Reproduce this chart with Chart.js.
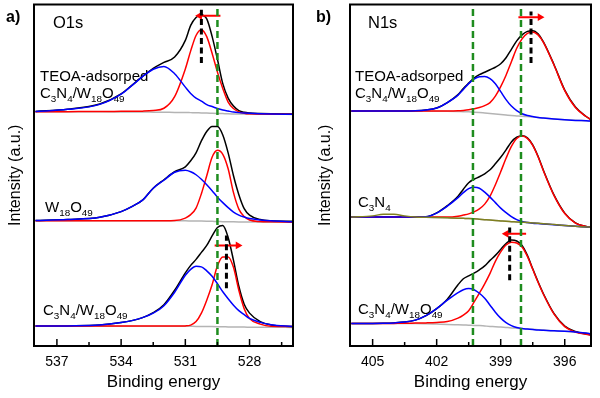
<!DOCTYPE html>
<html><head><meta charset="utf-8">
<script src="https://cdn.jsdelivr.net/npm/chart.js@4.4.1/dist/chart.umd.min.js"></script>
<style>
html,body{margin:0;padding:0;background:#fff;}
#wrap{position:relative;width:600px;height:398px;overflow:hidden;background:#fff;}
canvas{position:absolute;top:0;}
</style></head><body>
<div id="wrap"><canvas id="ca" width="300" height="398" style="left:0"></canvas><canvas id="cb" width="300" height="398" style="left:300px"></canvas></div>
<script>
// ---------- Panel a: O1s ----------
const aEnergy = [538, 536.5, 535, 534, 533.5, 533, 532.5, 532, 531.5, 531, 530.75, 530.5, 530.25, 530, 529.75, 529.5, 529.25, 529, 528.75, 528.5, 528.25, 528, 527.5, 527, 526];
// TEOA-adsorped C3N4/W18O49
const aTopBlack = [0.3, 2.5, 7.7, 18, 26.5, 35.5, 43.5, 49.5, 55, 71.7, 86.7, 94.7, 97.2, 93.2, 75.7, 52.7, 28.2, 13.7, 5.7, 1.2, -0.6, -1.3, -1.8, -2.1, -2.3];
const aTopRed   = [0, 0.1, 0.2, 0.4, 0.5, 0.6, 1.2, 3.5, 15.2, 43, 61.1, 76.6, 82.4, 75.4, 58.7, 39.8, 23.3, 9.7, 3.2, -0.1, -1.5, -2.1, -2.3, -2.5, -2.6];
const aTopBlue  = [0.2, 2.4, 7.4, 17.7, 26.2, 35.2, 42.7, 45.5, 38.2, 24.7, 18.4, 13.7, 10.7, 7.2, 5.2, 3.2, 1.7, 0.7, -0.3, -0.9, -1.3, -1.6, -2, -2.3, -2.6];
const aTopBase  = [-0.1, -0.1, -0.1, -0.2, -0.3, -0.3, -0.4, -0.5, -0.7, -0.8, -0.9, -1, -1.2, -1.3, -1.5, -1.7, -1.9, -2.1, -2.2, -2.3, -2.4, -2.5, -2.6, -2.6, -2.7];
// W18O49
const aMidBlack = [0.3, 1.3, 3.6, 9.3, 14.3, 20.8, 32.8, 41.3, 49.3, 54.3, 60.3, 68.3, 80.3, 89.8, 94.8, 94.8, 86.3, 68.3, 45.3, 26.3, 12.3, 5.8, 1.3, 0, -0.5];
const aMidRed   = [0, 0, 0, 0, 0, 0, 0, 0.1, 0.3, 2.8, 6.3, 12.8, 27.3, 45.3, 63.8, 70.8, 66.8, 52.3, 28.3, 11.8, 4.3, 0.8, -0.7, -1, -1.4];
const aMidBlue  = [0.3, 1.3, 3.6, 9.3, 14.3, 20.8, 32.8, 40.8, 48.8, 50.8, 49.3, 46.3, 41.8, 36.3, 30.3, 23.8, 18.3, 13.3, 8.8, 5.8, 3.8, 2.3, 0.9, 0, -0.8];
const aMidBase  = [0, 0, 0, 0, 0, 0, 0, 0, 0, 0, -0.1, -0.2, -0.2, -0.3, -0.5, -0.6, -0.8, -0.9, -1, -1.1, -1.2, -1.2, -1.3, -1.4, -1.4];
// C3N4/W18O49
const aBotBlack = [0, 0.2, 1, 3.5, 5.5, 8.5, 13.5, 21.5, 36, 53.5, 61, 67, 74, 81, 90.5, 99, 101, 89, 66, 40, 22, 13, 4.5, 1.2, -0.5];
const aBotRed   = [0, 0, 0, 0, 0, 0, 0, 0, 0, 0.2, 1, 4.5, 13, 26, 41.5, 60.5, 69.5, 69.5, 59, 36, 17.5, 7.5, 2, -0.2, -0.5];
const aBotBlue  = [0, 0.2, 1, 3.5, 5.5, 8.5, 13, 20.5, 34, 51, 57, 60, 59.5, 55.5, 50, 42.5, 34.5, 27.5, 21, 15.5, 11.5, 7.7, 3.7, 1.4, -0.3];
const aBotBase  = [-0.1, -0.1, -0.1, -0.1, -0.1, -0.1, -0.1, -0.1, -0.1, -0.1, -0.2, -0.3, -0.35, -0.4, -0.5, -0.6, -0.7, -0.8, -0.9, -1, -1, -1.1, -1.2, -1.2, -1.3];
const aStackOffsets = [235.3, 125.7, 20];          // top, middle, bottom spectrum
const aTickLabels = [537, 534, 531, 528];
const aMinorTicks = [535.5, 532.5, 529.5, 526.5];
const aRefLines = [529.5];
const aShiftMarks = [[530.25, 284.3, 337.7], [529.08, 58, 111]];   // energy, from, to
const aArrows = [[529.36, 530.33, 331.7], [529.63, 528.54, 101]];   // from, to, level

// ---------- Panel b: N1s ----------
const bEnergy = [406, 405, 404.5, 404, 403.5, 403, 402.5, 402, 401.5, 401, 400.75, 400.5, 400.25, 400, 399.75, 399.5, 399.25, 399, 398.75, 398.5, 398.25, 398, 397.75, 397.5, 397.25, 397, 396.5, 396, 395.5, 395, 394.8];
const bTopBlack = [0, 0, 0, 0, 0, 0.2, 1, 3, 8.5, 16.5, 22.7, 28, 33, 36.5, 39, 41.5, 44, 47.5, 53.5, 62, 70.5, 76.5, 80, 80.7, 77.5, 69.5, 46.5, 21, 4, -5.5, -8.3];
const bTopRed   = [0, 0, 0, 0, 0, 0, 0, 0, 0, 0.2, 0.6, 1.2, 2.2, 3.5, 5.5, 8.5, 15, 24.5, 36, 49.5, 63, 72.5, 78, 79.5, 76.5, 69, 46, 20.5, 3.5, -5.5, -8.3];
const bTopBlue  = [0, 0, 0, 0, 0, 0.2, 1, 3, 8.5, 16, 21.7, 27.5, 32, 34.5, 34.8, 32.5, 27.5, 19.5, 11.5, 5, 0.5, -2.7, -4.5, -5.5, -6.4, -7, -8, -8.8, -9.4, -9.8, -10];
const bTopBase  = [0, 0, 0, 0, 0, 0, 0, -0.1, -0.3, -0.5, -0.6, -0.8, -1.1, -1.5, -2, -2.5, -3, -3.5, -4, -4.5, -4.9, -5.3, -5.6, -6, -6.5, -7, -7.9, -8.7, -9.3, -9.7, -10];
const bMidBlack = [0, 0, 0, 0, 0, 0, 0.3, 4.2, 11.5, 21, 28, 34.5, 38, 40.5, 43.5, 47.5, 53.5, 60, 67.5, 75.5, 80.2, 81.7, 79.5, 72.5, 61, 47, 22, 4, -5.8, -9.5, -10.2];
const bMidRed   = [0, 0, 0, 0, 0, 0, 0, 0, 0, 0.9, 2, 3.2, 5.2, 8.2, 13, 21, 32.5, 45.5, 59, 71, 79, 81.5, 79, 72, 60.5, 46.5, 21.5, 3.5, -6, -9.5, -10.2];
const bMidBlue  = [0, 0, 0, 0, 0, 0, 0.3, 4, 11, 19.5, 24.5, 28.5, 29.9, 29, 25, 20, 14.5, 9, 4.5, 0.5, -2.5, -4.5, -5.5, -6.1, -6.5, -6.9, -7.7, -8.5, -9.3, -10, -10.2];
const bMidC3N4  = [0, 1.2, 2.8, 2.8, 1.2, 0.1, -0.2, -0.5, -0.8, -1.1, -1.3, -1.5, -1.8, -2.2, -2.6, -3, -3.5, -3.9, -4.3, -4.6, -4.9, -5.2, -5.5, -5.9, -6.3, -6.6, -7.5, -8.5, -9.3, -9.9, -10.2];
const bMidBase  = [0, 0, 0, 0, 0, 0, -0.2, -0.5, -0.8, -1.1, -1.3, -1.5, -1.8, -2.2, -2.6, -3, -3.5, -3.9, -4.3, -4.6, -4.9, -5.2, -5.5, -5.9, -6.3, -6.6, -7.5, -8.5, -9.3, -9.9, -10.2];
const bBotBlack = [0, 0.1, 0.3, 0.7, 1.5, 3.5, 8, 15, 24.5, 39, 45, 48, 50.7, 54, 58, 63.5, 68.5, 74.5, 80.5, 84, 83, 78.5, 68.5, 55, 42, 30, 10, -2.5, -8, -10.5, -11.3];
const bBotRed   = [0, 0, 0.1, 0.2, 0.3, 0.5, 0.7, 1.1, 2, 5.5, 8.5, 13, 21.5, 30.5, 40, 50.5, 62.5, 72, 79, 81.8, 81, 77, 67.5, 54.5, 41.5, 29.5, 9.5, -3, -8.5, -10.8, -11.5];
const bBotBlue  = [0, 0.1, 0.3, 0.7, 1.5, 3.5, 8, 15, 23.5, 31, 34, 35.2, 34, 30.5, 25.5, 18.5, 11.5, 5.5, 1, -2, -4, -5, -5.5, -6, -6.5, -6.8, -7.3, -7.8, -8.5, -9.5, -10.3];
const bBotBase  = [0, 0, 0, 0, 0, 0, -0.2, -0.5, -0.8, -1.2, -1.4, -1.6, -1.8, -2, -2.4, -2.8, -3.1, -3.5, -3.9, -4.3, -4.6, -5, -5.4, -5.7, -6.1, -6.5, -7.1, -7.8, -8.6, -9.5, -10.3];
const bStackOffsets = [236, 129.5, 22.5];
const bTickLabels = [405, 402, 399, 396];
const bMinorTicks = [403.5, 400.5, 397.5];
const bRefLines = [400.3, 398.05];
const bShiftMarks = [[397.58, 284.3, 336], [398.58, 66, 119]];
const bArrows = [[398.17, 397.16, 330.3], [397.81, 398.74, 112.7]];

// ---------- helpers ----------
const FONT = '"Liberation Sans", Arial, Helvetica, sans-serif';
Chart.defaults.font.family = FONT;
Chart.defaults.color = '#000';
const YMAX = 343;

function series(energy, vals, off) { return energy.map((e, i) => ({x: e, y: off + vals[i]})); }
function curve(energy, vals, off, color, order) {
  return {data: series(energy, vals, off), borderColor: color, borderWidth: 1.5, pointRadius: 0,
          cubicInterpolationMode: 'monotone', fill: false, order};
}
function vline(e, y0, y1, color, width, dash) {
  return {data: [{x: e, y: y0}, {x: e, y: y1}], borderColor: color, borderWidth: width, borderDash: dash,
          pointRadius: 0, order: 0, borderCapStyle: 'butt'};
}
function arrow(a) {
  const [from, to, lvl] = a;
  return {data: [{x: from, y: lvl}, {x: to, y: lvl}], borderColor: '#ff0000', borderWidth: 2,
          pointRadius: [0, 4.5], pointStyle: 'triangle', rotation: to > from ? -90 : 90,
          pointBackgroundColor: '#ff0000', pointBorderColor: '#ff0000', pointBorderWidth: 0, order: 0};
}
function spectrum(energy, black, red, blue, base, off) {
  return [curve(energy, base, off, '#b4b4b4', 5), curve(energy, black, off, '#000000', 4),
          curve(energy, red, off, '#ff0000', 3), curve(energy, blue, off, '#0000ff', 2)];
}

function drawRich(ctx, x, y, parts, size) {
  let cx = x;
  parts.forEach(p => {
    const sub = p[1];
    ctx.font = (sub ? (size * 0.66) : size) + 'px ' + FONT;
    ctx.fillText(p[0], cx, sub ? y + size * 0.28 : y);
    cx += ctx.measureText(p[0]).width;
  });
}
const CNW = [['C', 0], ['3', 1], ['N', 0], ['4', 1], ['/W', 0], ['18', 1], ['O', 0], ['49', 1]];

const decorPlugin = {
  id: 'decor',
  beforeDatasetsDraw(chart, args, o) {
    const ctx = chart.ctx;
    ctx.save();
    ctx.fillStyle = '#000';
    ctx.textBaseline = 'alphabetic';
    o.labels.forEach(l => drawRich(ctx, l.x, l.y, l.parts, l.size));
    ctx.restore();
  },
  afterDraw(chart, args, o) {
    const {ctx, chartArea: {left, top, right, bottom}} = chart;
    const xs = chart.scales.x;
    ctx.save();
    ctx.strokeStyle = '#000';
    ctx.lineWidth = 1.5;
    const tick = (v, len) => { const p = xs.getPixelForValue(v); ctx.beginPath(); ctx.moveTo(p, bottom); ctx.lineTo(p, bottom - len); ctx.stroke(); };
    o.major.forEach(v => tick(v, 7));
    o.minor.forEach(v => tick(v, 4));
    ctx.lineWidth = 2;
    ctx.strokeRect(left, top, right - left, bottom - top);
    ctx.font = 'bold 16px ' + FONT;
    ctx.fillStyle = '#000';
    ctx.fillText(o.letter[0], o.letter[1], o.letter[2]);
    ctx.font = '16.5px ' + FONT;
    ctx.fillText(o.core[0], o.core[1], o.core[2]);
    ctx.restore();
  }
};

function makeChart(id, cfg) {
  const datasets = [];
  cfg.spectra.forEach(s => datasets.push(...spectrum(cfg.energy, s[0], s[1], s[2], s[3], s[4])));
  if (cfg.extra) datasets.push(cfg.extra);
  cfg.refs.forEach(e => datasets.push(vline(e, 0, YMAX, '#1e8c1e', 2.5, [7, 4])));
  cfg.marks.forEach(m => datasets.push(vline(m[0], m[1], m[2], '#000000', 3, [6, 3.5])));
  cfg.arrows.forEach(a => datasets.push(arrow(a)));
  return new Chart(document.getElementById(id), {
    type: 'line',
    data: {datasets},
    options: {
      responsive: false, animation: false, devicePixelRatio: 1, events: [],
      layout: {padding: {top: 3, right: cfg.padRight, left: 0, bottom: 0}},
      plugins: {legend: {display: false}, tooltip: {enabled: false},
        decor: {labels: cfg.labels, major: cfg.ticks, minor: cfg.minor, letter: cfg.letter, core: cfg.core}},
      scales: {
        x: {type: 'linear', reverse: true, min: cfg.min, max: cfg.max,
            afterBuildTicks(s) { s.ticks = cfg.ticks.map(v => ({value: v})); },
            ticks: {font: {size: 14}, padding: 0, color: '#000', maxRotation: 0, autoSkip: false},
            grid: {display: false}, border: {display: false},
            title: {display: true, text: 'Binding energy', font: {size: 17}, padding: {top: 0, bottom: 5}, color: '#000'},
            afterFit(s) { s.height = 52; }},
        y: {type: 'linear', min: 0, max: YMAX, ticks: {display: false}, grid: {display: false}, border: {display: false},
            title: {display: true, text: 'Intensity (a.u.)', font: {size: 16}, padding: {top: cfg.yTitlePad, bottom: 0}, color: '#000'},
            afterFit(s) { s.width = cfg.yWidth; }}
      }
    },
    plugins: [decorPlugin]
  });
}

makeChart('ca', {
  energy: aEnergy, min: 525.97, max: 538.07, padRight: 7, yWidth: 34, yTitlePad: 6,
  spectra: [[aTopBlack, aTopRed, aTopBlue, aTopBase, aStackOffsets[0]],
            [aMidBlack, aMidRed, aMidBlue, aMidBase, aStackOffsets[1]],
            [aBotBlack, aBotRed, aBotBlue, aBotBase, aStackOffsets[2]]],
  refs: aRefLines, marks: aShiftMarks, arrows: aArrows,
  ticks: aTickLabels, minor: aMinorTicks,
  letter: ['a)', 6, 22], core: ['O1s', 53, 28],
  labels: [
    {x: 40, y: 81, size: 15, parts: [['TEOA-adsorped', 0]]},
    {x: 40, y: 98, size: 15, parts: CNW},
    {x: 45, y: 212, size: 15, parts: [['W', 0], ['18', 1], ['O', 0], ['49', 1]]},
    {x: 43, y: 315, size: 15, parts: CNW}
  ]
});

makeChart('cb', {
  energy: bEnergy, min: 394.77, max: 406.06, padRight: 9, yWidth: 50, yTitlePad: 16,
  spectra: [[bTopBlack, bTopRed, bTopBlue, bTopBase, bStackOffsets[0]],
            [bMidBlack, bMidRed, bMidBlue, bMidBase, bStackOffsets[1]],
            [bBotBlack, bBotRed, bBotBlue, bBotBase, bStackOffsets[2]]],
  extra: curve(bEnergy, bMidC3N4, bStackOffsets[1], '#808020', 1),
  refs: bRefLines, marks: bShiftMarks, arrows: bArrows,
  ticks: bTickLabels, minor: bMinorTicks,
  letter: ['b)', 16, 22], core: ['N1s', 68, 28],
  labels: [
    {x: 55, y: 81, size: 15, parts: [['TEOA-adsorped', 0]]},
    {x: 55, y: 98, size: 15, parts: CNW},
    {x: 58, y: 207, size: 15, parts: [['C', 0], ['3', 1], ['N', 0], ['4', 1]]},
    {x: 58, y: 314, size: 15, parts: CNW}
  ]
});
</script>
</body></html>
